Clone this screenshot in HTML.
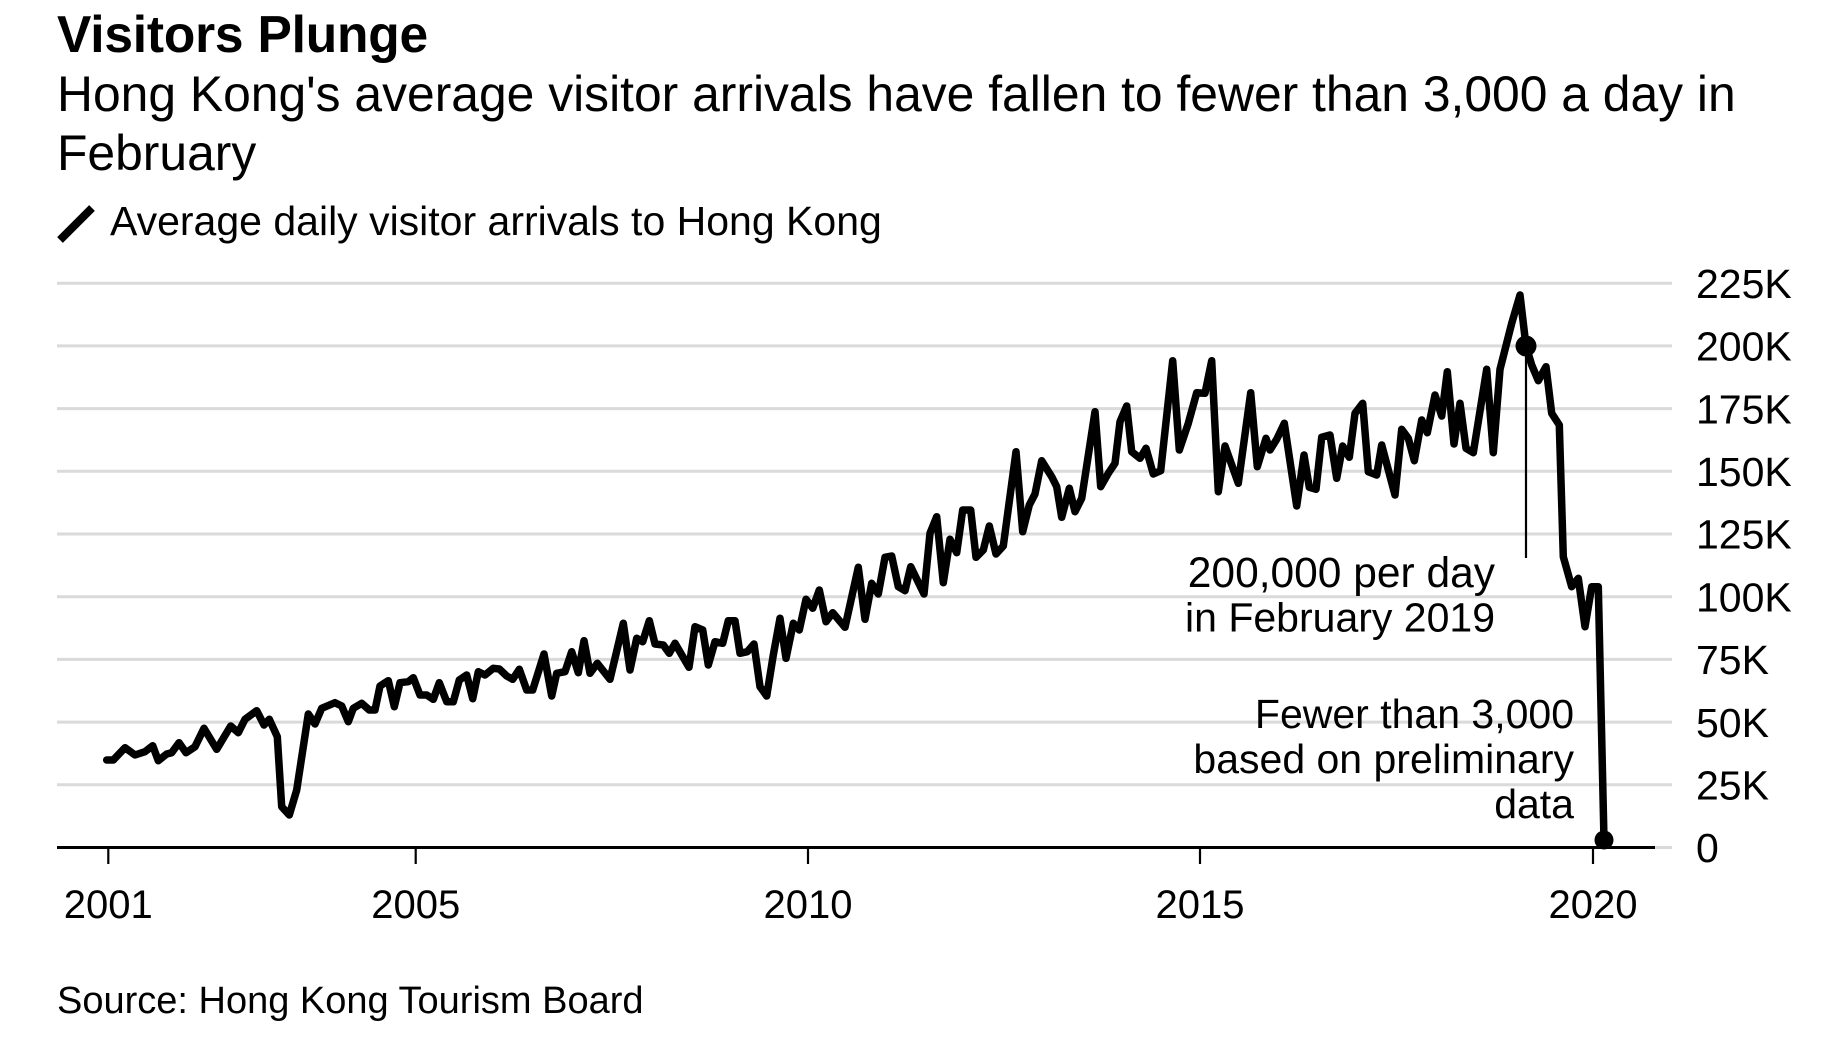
<!DOCTYPE html>
<html>
<head>
<meta charset="utf-8">
<style>
  html, body { margin: 0; padding: 0; background: #ffffff; }
  svg { display: block; }
  text { font-family: "Liberation Sans", Arial, Helvetica, sans-serif; fill: #000; }
</style>
</head>
<body>
<svg width="1848" height="1046" viewBox="0 0 1848 1046" xmlns="http://www.w3.org/2000/svg">
  <rect x="0" y="0" width="1848" height="1046" fill="#ffffff"/>

  <!-- Title & subtitle -->
  <text x="57" y="52" font-size="51.5" font-weight="bold" letter-spacing="-0.2">Visitors Plunge</text>
  <text x="57" y="111" font-size="49.8">Hong Kong's average visitor arrivals have fallen to fewer than 3,000 a day in</text>
  <text x="57" y="170" font-size="49.8">February</text>

  <!-- Legend -->
  <line x1="60" y1="240" x2="92" y2="208" stroke="#000" stroke-width="8"/>
  <text x="110" y="235" font-size="41">Average daily visitor arrivals to Hong Kong</text>

  <!-- Gridlines -->
  <g stroke="#dadada" stroke-width="3">
    <line x1="57" y1="283.2" x2="1672" y2="283.2"/>
    <line x1="57" y1="345.9" x2="1672" y2="345.9"/>
    <line x1="57" y1="408.6" x2="1672" y2="408.6"/>
    <line x1="57" y1="471.3" x2="1672" y2="471.3"/>
    <line x1="57" y1="534" x2="1672" y2="534"/>
    <line x1="57" y1="596.7" x2="1672" y2="596.7"/>
    <line x1="57" y1="659.4" x2="1672" y2="659.4"/>
    <line x1="57" y1="722.1" x2="1672" y2="722.1"/>
    <line x1="57" y1="784.8" x2="1672" y2="784.8"/>
    <line x1="1650" y1="847.5" x2="1672" y2="847.5"/>
  </g>

  <!-- Y labels -->
  <g font-size="41">
    <text x="1696" y="297.9">225K</text>
    <text x="1696" y="360.6">200K</text>
    <text x="1696" y="423.3">175K</text>
    <text x="1696" y="486">150K</text>
    <text x="1696" y="548.7">125K</text>
    <text x="1696" y="611.4">100K</text>
    <text x="1696" y="674.1">75K</text>
    <text x="1696" y="736.8">50K</text>
    <text x="1696" y="799.5">25K</text>
    <text x="1696" y="862.2">0</text>
  </g>

  <!-- X axis -->
  <line x1="57" y1="847.5" x2="1655" y2="847.5" stroke="#000" stroke-width="3"/>
  <g stroke="#000" stroke-width="2.2">
    <line x1="108.3" y1="847" x2="108.3" y2="864"/>
    <line x1="415.7" y1="847" x2="415.7" y2="864"/>
    <line x1="808" y1="847" x2="808" y2="864"/>
    <line x1="1200" y1="847" x2="1200" y2="864"/>
    <line x1="1593" y1="847" x2="1593" y2="864"/>
  </g>
  <g font-size="40" text-anchor="middle">
    <text x="108.3" y="918">2001</text>
    <text x="415.7" y="918">2005</text>
    <text x="808" y="918">2010</text>
    <text x="1200" y="918">2015</text>
    <text x="1593" y="918">2020</text>
  </g>

  <!-- Annotation line -->
  <line x1="1526" y1="346" x2="1526" y2="558" stroke="#000" stroke-width="2.2"/>

  <!-- Series -->
  <polyline fill="none" stroke="#000" stroke-width="7.5" stroke-linejoin="round" stroke-linecap="round" points="
106.7,760 113.3,760 125,747.7 135,755 145,751.7 152.7,745.7 158.3,760.7 166.7,754 171.7,752.7 179,742.7 186,752.7 195,746.7 204,728.3 216.7,749.3 230.7,726 238.3,732.7 245,719.3 256.7,710.7 264,725 269.3,719.3 277.3,736.7 281.7,806.7 289.3,815 296.7,790 308.3,714 315,724 321.7,708.3 335,702.7 341.7,706 348.3,721.7 353.3,708.3 361.7,703.3 369.3,710 375,710 380,686 388.3,680.7 394.3,706.7 400,682.7 408.3,681.7 413.3,677.7 420,695 426.7,695 433.3,699.3 439.3,682.7 446.7,701.7 453.3,701.7 459.3,680 466.7,675 472.7,698.7 478.3,671.7 485,675 493.3,668.3 499.3,669 506.7,676 512.7,679.3 519.3,669.3 526.7,690 532.7,690 544,654 551.7,696 556.7,673.3
565,671.7 571.7,651.7 578.3,672.7 584,640.7 590,673.3 597.3,663.3 610,679.3 623.3,623.3 630,670 636.7,638.3 642.7,641.7 649.3,620.7 655,644 663.3,645 669.3,653.3 675,643.3 689,667.3 695,626.7 702.7,630 708.3,665 715,641.7 722.7,643.3 728.3,620.7 735,620.7 740,653.3 747.3,651.7 754,644 760,686.7 766.7,696 773.3,655 780,618.3 786,658.3 793.3,623.3 799.3,630 806,599.3 812.7,608.3 819.3,590 826,621.7 832.7,612.7 845,627.3 858.3,567.3 865,619.3 871.7,583.3 878.3,594 885,557.3 891.7,556 898.3,586.7 905,590.7 910.7,566.7 924,594 930,533.3 936.7,516.7 943.3,582.7 950,539.3 956.7,552.7 962.7,510 970.7,510 976,557.3 983.3,550 989.3,526 996,554 1003.3,546 1016,451.7 1022.7,531.7 1029.3,505 1035,494 1041.7,460.7
1051.7,476.7 1056.7,486.7 1061.7,517.3 1069.3,488.3 1075,511.7 1081.7,498.3 1095,411.7 1100.7,486.7 1108.3,473.3 1115,463.3 1120,421.7 1126.7,406 1131.7,451.7 1140,458.3 1146,448.3 1153.3,474 1160.7,470.7 1172.7,360.7 1179.3,450 1188.3,423.3 1196.7,392.7 1205,393.3 1211.7,360.7 1218.3,491.7 1225,446 1238.3,483.3 1250.7,392.7 1257.3,466.7 1266,438.3 1270,450 1276.7,439.3 1284.3,423.3 1296.7,506 1304,455 1309.3,487.3 1316,489.3 1321.7,437.3 1330,435 1336.7,478.3 1342.7,446 1349.3,457.3 1355,413.3 1362.7,403.3 1368.3,471.7 1376.7,475 1381.7,445 1395,495 1401.7,429.3 1408.3,438.3 1414.3,460.7 1421.7,420 1427.3,432.7 1435,395 1441.7,416 1447.3,371.7 1454,444 1460,403.3 1466,448.3 1473.3,452.7 1486.7,369.3 1493.3,452.7 1500,369.3 1511.7,323.3 1520,295
1526,346 1531.7,365 1538.3,380.7 1546,366.7 1551.7,413.3 1559.3,425 1563.3,556.7 1571.7,586.7 1578.3,578.3 1585,626.7 1591.7,586.7 1598.3,586.7 1604,840"/>

  <!-- Dots -->
  <circle cx="1526" cy="346" r="10.5" fill="#000"/>
  <circle cx="1604" cy="840" r="9.5" fill="#000"/>

  <!-- Annotations -->
  <g font-size="41" text-anchor="end">
    <text x="1495" y="587" font-size="42.5">200,000 per day</text>
    <text x="1495" y="631.5">in February 2019</text>
    <text x="1574" y="728">Fewer than 3,000</text>
    <text x="1574" y="773">based on preliminary</text>
    <text x="1574" y="818">data</text>
  </g>

  <!-- Source -->
  <text x="57" y="1013" font-size="38">Source: Hong Kong Tourism Board</text>
</svg>
</body>
</html>
